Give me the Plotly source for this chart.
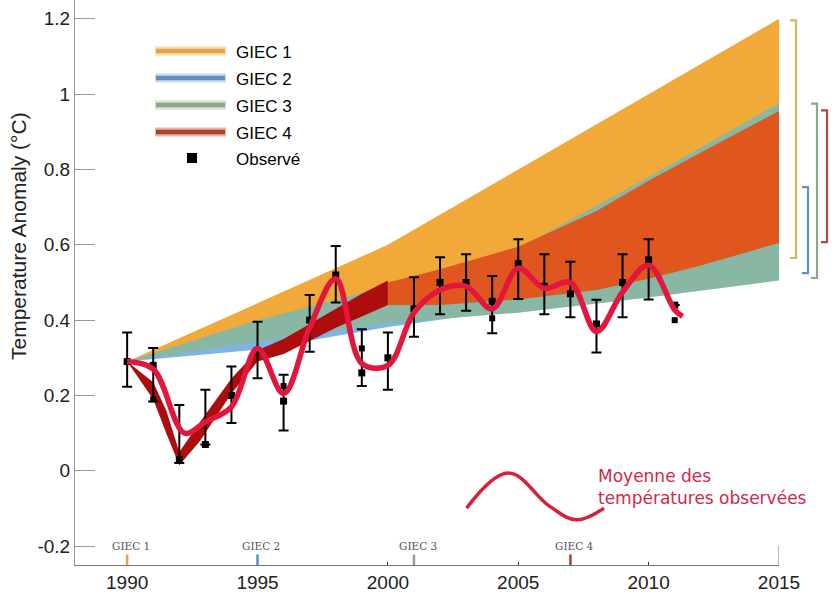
import plotly.graph_objects as go

# ---------------- data ----------------
years = list(range(1990, 2012))
obs = [0.29, 0.28, 0.03, 0.07, 0.20, 0.32, 0.185, 0.40, 0.52, 0.26, 0.30,
       0.43, 0.50, 0.50, 0.45, 0.55, 0.49, 0.47, 0.39, 0.50, 0.56, 0.44]
obs_hi = [0.367, 0.326, 0.175, 0.215, 0.277, 0.396, 0.255, 0.467, 0.597, 0.376, 0.367,
          0.514, 0.567, 0.575, 0.517, 0.615, 0.575, 0.555, 0.454, 0.575, 0.615, 0.44]
obs_lo = [0.223, 0.184, 0.021, 0.070, 0.127, 0.246, 0.107, 0.316, 0.447, 0.225, 0.215,
          0.356, 0.416, 0.425, 0.365, 0.456, 0.416, 0.408, 0.314, 0.408, 0.455, 0.44]
alt_years = [1991, 1996, 1999, 2004, 2011]
alt_obs = [0.19, 0.225, 0.325, 0.405, 0.40]

smooth_x = [1990, 1991, 1992.2, 1993, 1994, 1995, 1996, 1997, 1998, 1999, 2000,
            2001, 2002, 2003, 2004, 2005, 2006, 2007, 2008, 2009, 2010, 2011, 2011.3]
smooth_y = [0.29, 0.27, 0.10, 0.13, 0.17, 0.325, 0.205, 0.38, 0.51, 0.285, 0.28,
            0.42, 0.48, 0.49, 0.43, 0.538, 0.485, 0.50, 0.37, 0.475, 0.546, 0.427, 0.41]

band_x = [1990, 1995, 2000, 2005, 2010, 2015]
giec1_hi = [0.29, 0.445, 0.60, 0.80, 1.00, 1.20]
giec1_lo = [0.29, 0.34, 0.40, 0.45, 0.505, 0.565]
giec2_hi = [0.29, 0.37, 0.45, 0.54, 0.64, 0.75]
giec2_lo = [0.29, 0.322, 0.382, 0.43, 0.48, 0.53]
giec3_hi = [0.29, 0.40, 0.49, 0.59, 0.78, 0.976]
giec3_lo = [0.29, 0.342, 0.392, 0.42, 0.46, 0.505]

giec4_hind_x = [1990, 1991, 1991.5, 1992, 1992.8, 1994, 1995, 1996, 1997, 1998, 1999, 2000]
giec4_hind_hi = [0.29, 0.235, 0.16, 0.05, 0.13, 0.245, 0.32, 0.35, 0.39, 0.43, 0.47, 0.505]
giec4_hind_lo = [0.29, 0.19, 0.10, 0.015, 0.08, 0.205, 0.29, 0.31, 0.345, 0.38, 0.41, 0.44]
giec4_x = [2000, 2002, 2005, 2008, 2010, 2012, 2015]
giec4_hi = [0.50, 0.535, 0.595, 0.69, 0.77, 0.845, 0.955]
giec4_lo = [0.44, 0.44, 0.455, 0.48, 0.51, 0.545, 0.605]

report_years = [1990, 1995, 2001, 2007]
report_names = ["GIEC 1", "GIEC 2", "GIEC 3", "GIEC 4"]

# 2015 ranges shown by the brackets (low, high)
ranges_2015 = {"GIEC 1": (0.565, 1.196), "GIEC 2": (0.525, 0.753),
               "GIEC 3": (0.512, 0.975), "GIEC 4": (0.607, 0.957)}

wave_x = [2003.02, 2004.62, 2006.22, 2007.24, 2008.29]
wave_y = [-0.099, -0.006, -0.095, -0.13, -0.099]

x_ticks = [1990, 1995, 2000, 2005, 2010, 2015]
y_ticks = [-0.2, 0, 0.2, 0.4, 0.6, 0.8, 1.0, 1.2]
y_labels = ["-0.2", "0", "0.2", "0.4", "0.6", "0.8", "1", "1.2"]

# ---------------- style ----------------
C_ORANGE = "#F1A93A"
C_BLUE = "#7DB4E6"
C_GREEN = "#88B7A3"
C_DARKRED = "#AD0D0D"
C_RED = "#E0561F"
C_CURVE = "#E3173E"
leg_colors = {"GIEC 1": ("#E3A548", "#F7DDB0"), "GIEC 2": ("#5E8FBF", "#C8DDF0"),
              "GIEC 3": ("#8BA68A", "#D4E0D0"), "GIEC 4": ("#B0402E", "#EBB5A5")}
br_colors = {"GIEC 1": "#D9B45C", "GIEC 2": "#5A95C8", "GIEC 3": "#8AA88A", "GIEC 4": "#B04A40"}
FONT = "Liberation Sans, Arial, sans-serif"

# page geometry (page pixels)
PLOT_L, PLOT_R, PLOT_T, PLOT_B = 75, 779, 0, 565
FIG_W, FIG_H = 833, 594

fig = go.Figure()


def band(x, hi, lo, color):
    fig.add_trace(go.Scatter(x=list(x) + list(x)[::-1], y=list(hi) + list(lo)[::-1],
                             fill="toself", fillcolor=color, mode="lines",
                             line=dict(width=0), hoverinfo="skip", showlegend=False))


band(band_x, giec1_hi, giec1_lo, C_ORANGE)
band(band_x, giec2_hi, giec2_lo, C_BLUE)
band(band_x, giec3_hi, giec3_lo, C_GREEN)
band(giec4_hind_x, giec4_hind_hi, giec4_hind_lo, C_DARKRED)
band(giec4_x, giec4_hi, giec4_lo, C_RED)

err_plus = [h - v for h, v in zip(obs_hi, obs)]
err_minus = [v - l for v, l in zip(obs, obs_lo)]
fig.add_trace(go.Scatter(x=years, y=obs, mode="markers",
                         marker=dict(symbol="square", size=7, color="black"),
                         error_y=dict(type="data", symmetric=False, array=err_plus,
                                      arrayminus=err_minus, color="black", thickness=2, width=5),
                         showlegend=False))
fig.add_trace(go.Scatter(x=alt_years, y=alt_obs, mode="markers",
                         marker=dict(symbol="square", size=6, color="black"), showlegend=False))

fig.add_trace(go.Scatter(x=smooth_x, y=smooth_y, mode="lines",
                         line=dict(color=C_CURVE, width=5.5, shape="spline", smoothing=1.0),
                         showlegend=False))

fig.add_trace(go.Scatter(x=wave_x, y=wave_y, mode="lines",
                         line=dict(color="#D81E3C", width=3.5, shape="spline", smoothing=1.1),
                         showlegend=False))

shapes = []
annotations = []


def px(xp):
    return (xp - PLOT_L) / float(PLOT_R - PLOT_L)


def py(yp):
    return (PLOT_B - yp) / float(PLOT_B - PLOT_T)


# report markers on bottom axis
for yr, nm in zip(report_years, report_names):
    shapes.append(dict(type="line", xref="x", yref="y", x0=yr, x1=yr, y0=-0.25, y1=-0.222,
                       line=dict(color=leg_colors[nm][0], width=2.5)))
    annotations.append(dict(x=yr + 0.15, y=-0.2, xref="x", yref="y", text=nm, showarrow=False,
                            font=dict(family="DejaVu Serif, serif", size=10.5, color="#555")))
shapes.append(dict(type="line", xref="x", yref="y", x0=2015, x1=2015, y0=-0.25, y1=-0.198,
                   line=dict(color="#777", width=1)))

# right-hand brackets
br_x = {"GIEC 1": 796, "GIEC 2": 808, "GIEC 3": 817, "GIEC 4": 827}
for nm, (lo, hi) in ranges_2015.items():
    xv = px(br_x[nm])
    xl = px(br_x[nm] - 6)
    shapes.append(dict(type="path", xref="paper", yref="y",
                       path=f"M {xl},{hi} L {xv},{hi} L {xv},{lo} L {xl},{lo}",
                       line=dict(color=br_colors[nm], width=2.2)))

# manual legend
leg_rows = [("GIEC 1", 51), ("GIEC 2", 78), ("GIEC 3", 105), ("GIEC 4", 132)]
for nm, yp in leg_rows:
    core, halo = leg_colors[nm]
    shapes.append(dict(type="line", xref="paper", yref="paper", x0=px(155), x1=px(226),
                       y0=py(yp), y1=py(yp), line=dict(color=halo, width=9)))
    shapes.append(dict(type="line", xref="paper", yref="paper", x0=px(156), x1=px(225),
                       y0=py(yp), y1=py(yp), line=dict(color=core, width=4.5)))
    annotations.append(dict(x=px(234), y=py(yp + 1), xref="paper", yref="paper", text=nm,
                            showarrow=False, xanchor="left", yanchor="middle",
                            font=dict(family=FONT, size=17, color="black")))
shapes.append(dict(type="rect", xref="paper", yref="paper", x0=px(187), x1=px(197),
                   y0=py(163), y1=py(153), fillcolor="black", line=dict(width=0)))
annotations.append(dict(x=px(234), y=py(159), xref="paper", yref="paper", text="Observé",
                        showarrow=False, xanchor="left", yanchor="middle",
                        font=dict(family=FONT, size=17, color="black")))

# curve legend text
annotations.append(dict(x=px(596), y=-0.044, xref="paper", yref="y",
                        text="Moyenne des<br>températures observées", showarrow=False,
                        xanchor="left", yanchor="middle", align="left",
                        font=dict(family="DejaVu Sans, sans-serif", size=17, color="#D4284A")))

# y-axis title
annotations.append(dict(x=px(18), y=py(236), xref="paper", yref="paper",
                        text="Temperature Anomaly (°C)", textangle=-90, showarrow=False,
                        xanchor="center", yanchor="middle",
                        font=dict(family=FONT, size=21, color="#222")))

fig.update_layout(
    width=FIG_W, height=FIG_H,
    margin=dict(l=PLOT_L, r=FIG_W - PLOT_R, t=PLOT_T, b=FIG_H - PLOT_B, pad=0),
    plot_bgcolor="white", paper_bgcolor="white",
    showlegend=False,
    shapes=shapes, annotations=annotations,
    xaxis=dict(range=[1988, 2015], tickvals=x_ticks, ticks="inside", ticklen=3,
               tickcolor="#333", showline=True, linecolor="#777", linewidth=1,
               showgrid=False, zeroline=False, automargin=False,
               tickfont=dict(family=FONT, size=19, color="#222")),
    yaxis=dict(range=[-0.25, 1.25], tickvals=y_ticks, ticktext=y_labels, ticks="inside",
               ticklen=20, tickcolor="#999", showline=True, linecolor="#999", linewidth=1,
               showgrid=False, zeroline=False, automargin=False,
               tickfont=dict(family=FONT, size=19, color="#222")),
)

fig.write_html("out.html",
               config={"displayModeBar": False},
               post_script="document.body.style.margin='0px';"
                           "document.body.style.overflow='hidden';")
